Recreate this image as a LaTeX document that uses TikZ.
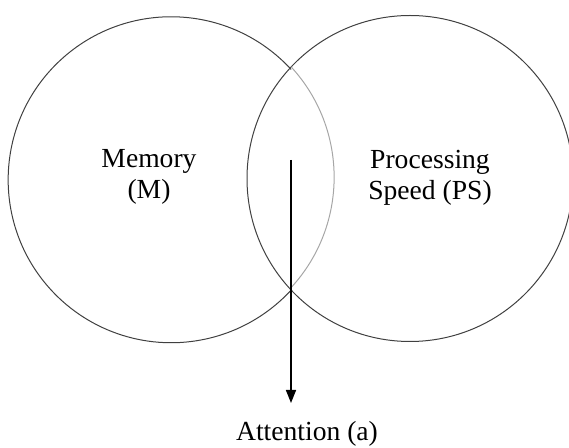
\documentclass[tikz,border=0pt]{standalone}
\usepackage{fontspec}
\setmainfont{Liberation Serif}
\usetikzlibrary{arrows.meta, positioning}

\begin{document}
\begin{tikzpicture}[
  x=0.5pt, y=-0.5pt, >={Triangle[length=6.5pt,width=5pt]},
  set/.style={circle, draw=black!75, line width=0.5pt, minimum size=163pt, inner sep=0pt, outer sep=0pt},
  set text/.style={font=\fontsize{13.8}{15.5}\selectfont, align=center},
  ]
  \useasboundingbox (0,0) rectangle (569,448);

  \node[set, draw=none] (mem) at (170,178.5) {};
  \node[set]            (ps)  at (410,178.5) {};
  \draw[black!75, line width=0.5pt] (mem.42.6) arc[start angle=42.6, end angle=317.4, radius=81.5pt];
  \draw[black!35, line width=0.5pt] (mem.-42.6) arc[start angle=-42.6, end angle=42.6, radius=81.5pt];

  \node[set text] (memtext) at (149,177) {Memory\\(M)};
  \node[set text] (pstext)  at (430,178) {Processing\\Speed (PS)};
  \node[set text] (att)     at (307,434) {Attention (a)};

  \coordinate (top) at (291,160);
  \coordinate (tip) at (291,403);
  \draw[->, line width=0.75pt] (top) -- (tip);
\end{tikzpicture}
\end{document}
